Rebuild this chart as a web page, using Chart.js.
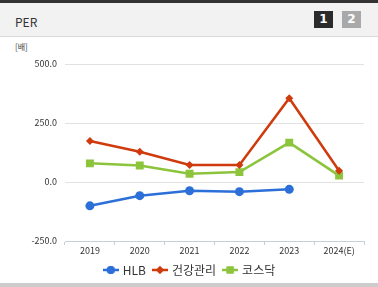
<!DOCTYPE html>
<html>
<head>
<meta charset="utf-8">
<script src="https://cdn.jsdelivr.net/npm/chart.js@4"></script>
<style>
  body { margin: 0; background: #fff; font-family: "Noto Sans CJK KR", "Noto Sans", sans-serif; }
  #wrap { position: relative; width: 378px; height: 287px; overflow: hidden; }
  #topline { position: absolute; left: 0; top: 0; width: 378px; height: 3px; background: #333; }
  #head { position: absolute; left: 0; top: 3px; width: 378px; height: 33px; background: #f2f2f2; border-bottom: 1px solid #d9d9d9; }
  #title { position: absolute; left: 15px; top: 10px; font-size: 12px; color: #333; }
  .tab { position: absolute; top: 8px; width: 19px; height: 17px; color: #fff; font: bold 12px "DejaVu Sans", sans-serif; text-align: center; line-height: 17px; }
  #unit { position: absolute; left: 15px; top: 41px; font-size: 8px; color: #444; }
  #bottom { position: absolute; left: 0; top: 283px; width: 378px; height: 4px; background: #ccc; }
  canvas { position: absolute; left: 0; top: 0; }
</style>
</head>
<body>
<div id="wrap">
  <div id="topline"></div>
  <div id="head">
    <div id="title">PER</div>
    <div class="tab" style="left:314px;background:#2b2b2b">1</div>
    <div class="tab" style="left:342px;background:#a9a9a9">2</div>
  </div>
  <div id="unit">[배]</div>
  <canvas id="myChart" width="378" height="286"></canvas>
  <div id="bottom"></div>
</div>
<script>
// chart data
const years = ['2019', '2020', '2021', '2022', '2023', '2024(E)'];
const hlbPer = [-101, -58, -37, -41, -31, null];
const healthPer = [174, 128, 72, 72, 355, 48];
const kosdaqPer = [79, 70, 35, 42, 167, 27];
const yTicks = [-250, 0, 250, 500];

const seriesNames = ['HLB', '건강관리', '코스닥'];
const seriesColors = ['#2d6fd8', '#cf3b0c', '#8cc43c'];
const seriesPoints = ['circle', 'rectRot', 'rect'];
const seriesRadius = [4.5, 4, 5.6];

// little legend icon: a short line with the marker on it
function makeIcon(color, style) {
    const c = document.createElement('canvas');
    c.width = 16; c.height = 10;
    const ctx = c.getContext('2d');
    ctx.strokeStyle = color;
    ctx.fillStyle = color;
    ctx.lineWidth = 2.5;
    ctx.beginPath();
    ctx.moveTo(0, 5); ctx.lineTo(16, 5);
    ctx.stroke();
    Chart.helpers.drawPoint(ctx, { pointStyle: style, radius: style === 'rect' ? 5 : 4, rotation: 0, borderWidth: 0 }, 8, 5);
    ctx.fill();
    return c;
}

const datasets = [hlbPer, healthPer, kosdaqPer].map((vals, i) => ({
    label: seriesNames[i],
    data: vals,
    borderColor: seriesColors[i],
    backgroundColor: seriesColors[i],
    borderWidth: 2.5,
    pointStyle: seriesPoints[i],
    pointRadius: seriesRadius[i],
    pointHoverRadius: seriesRadius[i],
    pointBorderWidth: 0,
    tension: 0,
    spanGaps: false
}));

// nudge the legend a bit to the right, like the original
const legendShift = {
    id: 'legendShift',
    afterLayout(chart) {
        chart.legend.left += 8;
        chart.legend.right += 8;
    }
};

new Chart(document.getElementById('myChart'), {
    type: 'line',
    data: { labels: years, datasets: datasets },
    plugins: [legendShift],
    options: {
        responsive: false,
        animation: false,
        layout: { padding: { top: 64, right: 14, left: 0, bottom: 0 } },
        scales: {
            x: {
                offset: true,
                grid: { display: true, drawOnChartArea: false, offset: true, color: '#c6ceda', tickLength: 4 },
                border: { color: '#c6ceda' },
                ticks: { color: '#333', font: { size: 9, family: 'Noto Sans CJK KR', lineHeight: 1 }, padding: 1, maxRotation: 0 }
            },
            y: {
                min: -250,
                max: 500,
                afterBuildTicks: (scale) => { scale.ticks = yTicks.map(v => ({ value: v })); },
                afterFit: (scale) => { scale.width = 65; },
                grid: { color: '#e2e2e2', drawTicks: false },
                border: { display: false },
                ticks: {
                    color: '#333',
                    font: { size: 9, family: 'Noto Sans CJK KR' },
                    padding: 8,
                    callback: (v) => Number(v).toFixed(1)
                }
            }
        },
        plugins: {
            legend: {
                position: 'bottom',
                labels: {
                    usePointStyle: true,
                    boxWidth: 18,
                    boxHeight: 10,
                    color: '#333',
                    font: { size: 12, family: 'Noto Sans CJK KR' },
                    padding: 8,
                    generateLabels: (chart) => chart.data.datasets.map((ds, i) => ({
                        text: ds.label,
                        pointStyle: makeIcon(seriesColors[i], seriesPoints[i]),
                        fillStyle: seriesColors[i],
                        strokeStyle: seriesColors[i],
                        lineWidth: 0,
                        hidden: false,
                        datasetIndex: i,
                        fontColor: '#333'
                    }))
                }
            },
            tooltip: { enabled: false }
        }
    }
});
</script>
</body>
</html>
